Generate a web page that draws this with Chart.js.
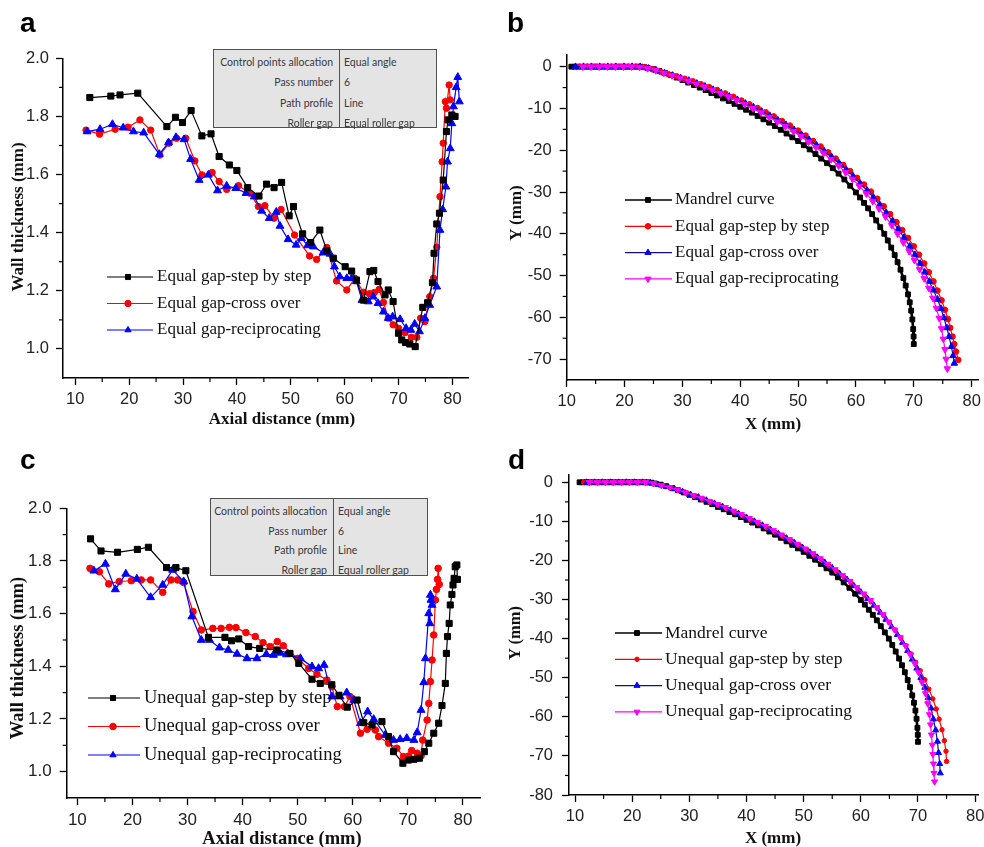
<!DOCTYPE html>
<html><head><meta charset="utf-8">
<script src="https://cdn.jsdelivr.net/npm/chart.js@4.4.1/dist/chart.umd.min.js"></script>
<style>
html,body{margin:0;padding:0;background:#fff;}
#wrap{position:relative;width:984px;height:847px;overflow:hidden;background:#fff;}
canvas{position:absolute;}
.lbl{position:absolute;font:bold 28px "Liberation Sans",Arial,sans-serif;color:#000;line-height:1;}
.ttl{position:absolute;font-family:"Liberation Serif","Times New Roman",serif;font-weight:bold;color:#111;white-space:nowrap;line-height:1;}
.tbl{position:absolute;background:#e4e4e4;border:1px solid #505050;box-sizing:border-box;font-family:Lato,"Noto Sans",sans-serif;font-size:10.5px;color:#3a3a3a;}
.tbl .div{position:absolute;top:0;bottom:0;width:1px;background:#505050;}
.tbl span{position:absolute;white-space:nowrap;line-height:1;transform:translateY(-50%);}
</style></head>
<body><div id="wrap">
<canvas id="ca" width="490" height="420" style="left:0;top:0"></canvas>
<canvas id="cb" width="494" height="420" style="left:490px;top:0"></canvas>
<canvas id="cc" width="490" height="427" style="left:0;top:420px"></canvas>
<canvas id="cd" width="494" height="427" style="left:490px;top:420px"></canvas>
<div class="lbl" style="left:20px;top:9px">a</div>
<div class="lbl" style="left:507px;top:9px">b</div>
<div class="lbl" style="left:20px;top:446px">c</div>
<div class="lbl" style="left:508px;top:446px">d</div>
</div>
<script>
// ---------------- data ----------------
// Panel a: wall thickness, equal roller gap
const aStep = [[12.7,1.865],[16.6,1.870],[18.3,1.874],[21.6,1.880],[27.0,1.765],[28.6,1.797],[29.9,1.779],[31.5,1.820],[33.5,1.733],[35.2,1.740],[36.7,1.662],[38.6,1.633],[40.0,1.614],[42.0,1.555],[44.1,1.526],[45.5,1.567],[46.9,1.555],[48.3,1.573],[49.7,1.458],[50.5,1.490],[52.2,1.396],[53.7,1.366],[55.4,1.409],[56.7,1.338],[57.9,1.312],[60.1,1.283],[61.3,1.268],[62.2,1.237],[63.5,1.168],[64.7,1.266],[65.4,1.270],[66.2,1.232],[67.5,1.186],[68.1,1.203],[69.0,1.163],[70.0,1.054],[70.6,1.031],[71.3,1.022],[72.1,1.017],[73.1,1.008],[74.5,1.143],[75.4,1.159],[76.3,1.228],[76.6,1.329],[77.1,1.430],[77.6,1.467],[78.3,1.581],[78.9,1.748],[79.2,1.788],[79.9,1.805],[80.5,1.800]];
const aCross = [[12.0,1.753],[14.5,1.739],[17.4,1.756],[19.8,1.763],[22.0,1.788],[24.0,1.753],[25.7,1.667],[27.4,1.708],[28.8,1.725],[30.5,1.725],[32.2,1.647],[33.5,1.599],[35.4,1.607],[36.7,1.576],[38.1,1.549],[40.3,1.562],[42.4,1.536],[44.0,1.490],[45.2,1.493],[46.9,1.450],[48.2,1.480],[50.7,1.392],[53.5,1.320],[54.8,1.308],[56.7,1.349],[58.5,1.234],[60.4,1.203],[61.9,1.243],[63.5,1.195],[64.6,1.190],[65.5,1.194],[66.4,1.205],[67.2,1.160],[68.1,1.106],[69.0,1.083],[70.0,1.071],[71.2,1.056],[72.4,1.040],[73.4,1.040],[74.1,1.106],[74.9,1.094],[75.8,1.180],[76.5,1.243],[77.1,1.350],[77.7,1.524],[78.1,1.644],[78.3,1.708],[78.7,1.851],[78.9,1.828],[79.4,1.908],[79.6,1.857]];
const aRecip = [[12.2,1.748],[14.6,1.756],[16.9,1.773],[18.9,1.761],[20.8,1.748],[22.7,1.744],[25.6,1.670],[27.3,1.710],[28.7,1.728],[30.2,1.721],[31.4,1.653],[33.0,1.581],[34.7,1.599],[36.4,1.545],[38.1,1.561],[39.8,1.553],[41.7,1.536],[43.2,1.524],[44.6,1.475],[46.0,1.450],[47.3,1.471],[48.0,1.423],[49.5,1.377],[51.0,1.358],[52.0,1.381],[53.1,1.356],[54.2,1.352],[56.0,1.331],[57.3,1.327],[58.1,1.283],[59.1,1.249],[60.4,1.243],[61.3,1.243],[62.2,1.232],[63.2,1.168],[64.4,1.163],[65.3,1.180],[66.2,1.157],[67.2,1.128],[68.1,1.106],[68.9,1.111],[70.3,1.102],[71.4,1.071],[72.3,1.065],[73.0,1.086],[73.9,1.060],[74.9,1.106],[75.8,1.151],[77.1,1.214],[77.7,1.409],[78.2,1.480],[78.8,1.558],[79.1,1.644],[79.6,1.690],[79.9,1.776],[80.2,1.834],[80.7,1.900],[81.0,1.935],[81.3,1.851]];

// Panel c: wall thickness, unequal roller gap
const cStep = [[12.4,1.884],[14.3,1.838],[17.3,1.833],[20.9,1.844],[22.9,1.852],[26.2,1.775],[27.9,1.775],[29.7,1.763],[33.8,1.510],[36.8,1.510],[38.0,1.497],[39.3,1.504],[41.1,1.475],[43.1,1.468],[46.2,1.462],[48.6,1.449],[50.2,1.411],[52.6,1.351],[54.1,1.335],[56.2,1.330],[57.5,1.290],[59.0,1.245],[60.8,1.272],[62.0,1.186],[63.5,1.177],[65.3,1.190],[66.5,1.133],[67.4,1.076],[69.1,1.032],[70.1,1.044],[71.1,1.047],[72.1,1.051],[73.0,1.076],[73.8,1.108],[74.7,1.146],[75.6,1.184],[76.2,1.251],[76.8,1.335],[77.0,1.449],[77.2,1.513],[77.5,1.563],[77.7,1.633],[78.0,1.673],[78.2,1.709],[78.4,1.734],[78.6,1.778],[78.9,1.785],[79.0,1.730]];
const cCross = [[12.3,1.772],[14.0,1.759],[15.7,1.713],[17.6,1.722],[19.8,1.725],[21.6,1.728],[23.3,1.728],[25.5,1.681],[27.0,1.728],[28.2,1.728],[29.3,1.718],[31.0,1.608],[32.5,1.538],[34.6,1.544],[36.1,1.544],[37.6,1.548],[38.8,1.547],[40.6,1.528],[42.3,1.513],[43.7,1.490],[45.0,1.475],[46.3,1.494],[47.4,1.478],[50.0,1.430],[52.0,1.392],[53.5,1.370],[55.3,1.348],[56.2,1.323],[57.2,1.247],[58.5,1.247],[59.5,1.285],[61.4,1.146],[62.6,1.161],[64.1,1.158],[64.7,1.133],[66.5,1.108],[68.0,1.089],[69.2,1.057],[70.1,1.059],[70.7,1.080],[71.7,1.070],[72.4,1.060],[72.7,1.120],[73.5,1.196],[73.8,1.259],[74.1,1.342],[74.4,1.424],[74.7,1.519],[75.0,1.652],[75.2,1.692],[75.4,1.730],[75.5,1.772],[75.7,1.711]];
const cRecip = [[13.0,1.763],[15.1,1.789],[16.9,1.692],[18.8,1.751],[20.8,1.732],[23.3,1.662],[25.5,1.709],[27.3,1.766],[29.3,1.722],[30.8,1.589],[32.5,1.500],[34.0,1.500],[35.8,1.471],[37.4,1.462],[39.0,1.447],[40.8,1.430],[42.6,1.430],[44.3,1.446],[45.6,1.443],[46.8,1.451],[48.0,1.445],[50.5,1.430],[52.6,1.399],[53.8,1.392],[54.8,1.405],[56.2,1.285],[57.7,1.285],[58.9,1.300],[60.2,1.272],[61.4,1.184],[62.7,1.228],[63.8,1.199],[65.9,1.139],[67.4,1.120],[68.6,1.123],[69.8,1.127],[71.1,1.120],[71.7,1.149],[72.4,1.234],[72.9,1.339],[73.2,1.430],[73.8,1.601],[74.0,1.563],[74.1,1.671],[74.2,1.652],[74.4,1.633]];

// Panels b & d: mandrel curve (same mandrel)
const mandrel = [[10.8,0],[11.4,0],[12,0],[12.6,0],[13.2,0],[13.8,0],[14.4,0],[15,0],[15.6,0],[16.2,0],[16.8,0],[17.4,0],[18,0],[18.6,0],[19.2,0],[19.8,0],[20.4,0],[21,0],[21.6,0],[22.2,0],[22.8,0],[23.4,-0.1],[24,-0.3],[25,-0.6],[26,-1.0],[27,-1.5],[28,-2.0],[29,-2.6],[30,-3.2],[31,-3.8],[32,-4.4],[33,-5.0],[34,-5.6],[35,-6.3],[36,-6.9],[37,-7.6],[38,-8.2],[39,-8.9],[40,-9.6],[41,-10.3],[42,-11.0],[43,-11.8],[44,-12.6],[45,-13.4],[46,-14.2],[47,-15.1],[48,-16.0],[49,-16.9],[50,-17.8],[51,-18.8],[52,-19.8],[53,-20.9],[54,-22.0],[55,-23.1],[56,-24.3],[57,-25.6],[58,-27.0],[59,-28.5],[60,-30.1],[60.7,-31.3],[61.4,-32.6],[62.1,-33.9],[62.8,-35.3],[63.5,-36.8],[64.2,-38.4],[64.9,-40.0],[65.5,-41.6],[66.1,-43.3],[66.7,-45.1],[67.2,-46.8],[67.7,-48.6],[68.2,-50.6],[68.6,-52.4],[69,-54.5],[69.3,-56.4],[69.55,-58.4],[69.75,-60.5],[69.9,-62.8],[69.97,-64.6],[70,-66.4]];

// Panel b: profiles, equal gap
const bStep = [[12.2,0],[13.6,0],[15,0],[16.4,0],[17.8,0],[19.2,0],[20.6,0],[22,0],[23.4,-0.1],[24.8,-0.6],[26.2,-1.2],[27.6,-1.8],[29,-2.3],[30.4,-2.9],[31.8,-3.5],[33.2,-4.2],[34.6,-4.9],[36,-5.6],[37.4,-6.4],[38.8,-7.2],[40.2,-8.1],[41.6,-9.0],[43,-9.9],[44.4,-10.9],[45.8,-11.9],[47.2,-13.0],[48.6,-14.1],[50,-15.3],[51.3,-16.5],[52.6,-17.8],[53.9,-19.1],[55.2,-20.5],[56.5,-22.0],[57.8,-23.5],[59,-25.0],[60.2,-26.6],[61.4,-28.2],[62.6,-29.9],[63.7,-31.6],[64.8,-33.4],[65.9,-35.3],[67,-37.2],[68,-39.1],[69,-41.0],[70,-43.0],[70.9,-45.0],[71.8,-47.1],[72.6,-49.2],[73.4,-51.4],[74.1,-53.6],[74.8,-55.9],[75.4,-58.2],[75.9,-60.4],[76.3,-62.5],[76.7,-64.6],[77,-66.4],[77.3,-68.2],[77.7,-70.2]];
const bCross = [[11.5,0],[12.9,0],[14.3,0],[15.7,0],[17.1,0],[18.5,0],[19.9,0],[21.3,0],[22.7,0],[24.1,-0.4],[25.5,-0.9],[26.9,-1.5],[28.3,-2.1],[29.7,-2.7],[31.1,-3.3],[32.5,-4.0],[33.9,-4.7],[35.3,-5.5],[36.7,-6.3],[38.1,-7.1],[39.5,-7.9],[40.9,-8.8],[42.3,-9.7],[43.7,-10.7],[45.1,-11.7],[46.5,-12.8],[47.9,-13.9],[49.3,-15.1],[50.6,-16.3],[51.9,-17.5],[53.2,-18.8],[54.5,-20.2],[55.8,-21.6],[57.1,-23.1],[58.3,-24.6],[59.5,-26.2],[60.7,-27.9],[61.9,-29.6],[63,-31.3],[64.1,-33.1],[65.2,-35.0],[66.3,-37.0],[67.3,-38.9],[68.3,-40.9],[69.3,-43.0],[70.2,-45.0],[71.1,-47.1],[71.9,-49.2],[72.7,-51.4],[73.4,-53.5],[74.1,-55.7],[74.7,-57.9],[75.2,-60.1],[75.7,-62.5],[76.1,-64.6],[76.5,-67.0],[76.8,-69.2],[77.0,-71.0]];
const bRecip = [[12.8,0],[14.2,0],[15.6,0],[17,0],[18.4,0],[19.8,0],[21.2,0],[22.6,-0.1],[24,-0.4],[25.4,-0.9],[26.8,-1.5],[28.2,-2.1],[29.6,-2.7],[31,-3.4],[32.4,-4.1],[33.8,-4.8],[35.2,-5.6],[36.6,-6.4],[38,-7.2],[39.4,-8.1],[40.8,-9.0],[42.2,-10.0],[43.6,-11.0],[45,-12.1],[46.4,-13.2],[47.8,-14.3],[49.2,-15.5],[50.5,-16.7],[51.8,-18.0],[53.1,-19.3],[54.4,-20.7],[55.7,-22.2],[57,-23.7],[58.2,-25.3],[59.4,-26.9],[60.6,-28.6],[61.8,-30.4],[62.9,-32.2],[64,-34.0],[65.1,-35.9],[66.2,-38.0],[67.2,-40.0],[68.2,-42.1],[69.2,-44.2],[70.1,-46.3],[71,-48.5],[71.8,-50.7],[72.6,-53.0],[73.3,-55.4],[73.9,-57.8],[74.4,-60.2],[74.8,-62.7],[75.1,-65.2],[75.4,-67.7],[75.6,-70.0],[75.8,-72.3]];

// Panel d: profiles, unequal gap
const dStep = [[11.5,0],[12.9,0],[14.3,0],[15.7,0],[17.1,0],[18.5,0],[19.9,0],[21.3,0],[22.7,-0.1],[24.1,-0.4],[25.5,-0.9],[26.9,-1.5],[28.3,-2.2],[29.7,-2.9],[31.1,-3.6],[32.5,-4.4],[33.9,-5.2],[35.3,-6.0],[36.7,-6.9],[38.1,-7.8],[39.5,-8.7],[40.9,-9.7],[42.3,-10.7],[43.7,-11.7],[45.1,-12.8],[46.5,-13.9],[47.9,-15.0],[49.3,-16.2],[50.6,-17.4],[51.9,-18.7],[53.2,-20.0],[54.5,-21.4],[55.8,-22.8],[57.1,-24.3],[58.3,-25.8],[59.5,-27.4],[60.7,-29.0],[61.8,-30.6],[62.9,-32.3],[64,-34.1],[65,-35.9],[66,-37.8],[67,-39.8],[67.9,-41.8],[68.8,-43.9],[69.6,-46.0],[70.4,-48.2],[71.2,-50.5],[71.9,-52.9],[72.6,-55.4],[73.2,-58.0],[73.7,-60.6],[74.2,-63.3],[74.6,-66.1],[74.9,-68.8],[75.0,-71.4]];
const dCross = [[12,0],[13.4,0],[14.8,0],[16.2,0],[17.6,0],[19,0],[20.4,0],[21.8,0],[23.2,-0.2],[24.6,-0.6],[26,-1.1],[27.4,-1.7],[28.8,-2.4],[30.2,-3.1],[31.6,-3.8],[33,-4.6],[34.4,-5.4],[35.8,-6.2],[37.2,-7.1],[38.6,-8.0],[40,-9.0],[41.4,-10.0],[42.8,-11.0],[44.2,-12.1],[45.6,-13.2],[47,-14.3],[48.4,-15.5],[49.8,-16.7],[51.1,-17.9],[52.4,-19.2],[53.7,-20.5],[55,-21.9],[56.3,-23.4],[57.6,-24.9],[58.8,-26.5],[60,-28.1],[61.2,-29.8],[62.3,-31.5],[63.4,-33.3],[64.4,-35.1],[65.4,-37.0],[66.4,-39.0],[67.3,-41.0],[68.2,-43.1],[69,-45.3],[69.8,-47.6],[70.5,-50.0],[71.2,-52.5],[71.8,-55.1],[72.3,-57.8],[72.7,-60.6],[73.1,-63.4],[73.4,-66.3],[73.6,-69.2],[73.8,-72.0],[73.9,-74.4]];
const dRecip = [[12.5,0],[13.9,0],[15.3,0],[16.7,0],[18.1,0],[19.5,0],[20.9,0],[22.3,0],[23.7,-0.3],[25.1,-0.8],[26.5,-1.3],[27.9,-1.9],[29.3,-2.6],[30.7,-3.3],[32.1,-4.0],[33.5,-4.8],[34.9,-5.6],[36.3,-6.4],[37.7,-7.3],[39.1,-8.2],[40.5,-9.2],[41.9,-10.2],[43.3,-11.2],[44.7,-12.3],[46.1,-13.4],[47.5,-14.6],[48.9,-15.8],[50.3,-17.0],[51.6,-18.2],[52.9,-19.5],[54.2,-20.9],[55.5,-22.3],[56.8,-23.8],[58.1,-25.3],[59.3,-26.9],[60.5,-28.5],[61.7,-30.2],[62.8,-32.0],[63.9,-33.8],[64.9,-35.7],[65.9,-37.7],[66.9,-39.7],[67.8,-41.8],[68.6,-44.0],[69.4,-46.3],[70.1,-48.7],[70.7,-51.2],[71.3,-54.0],[71.7,-56.6],[72.0,-59.4],[72.2,-62.0],[72.35,-64.6],[72.5,-67.2],[72.6,-69.6],[72.7,-72.0],[72.8,-74.4],[72.9,-76.6]];

// ticks
const thickTicksX = [10,20,30,40,50,60,70,80];
const thickMinorX = [15,25,35,45,55,65,75];
const thickTicksY = [1.0,1.2,1.4,1.6,1.8,2.0];
const thickMinorY = [1.1,1.3,1.5,1.7,1.9];
const profTicksX = [10,20,30,40,50,60,70,80];
const profMinorX = [15,25,35,45,55,65,75];
const bTicksY = [0,-10,-20,-30,-40,-50,-60,-70];
const bMinorY = [-5,-15,-25,-35,-45,-55,-65];
const dTicksY = [0,-10,-20,-30,-40,-50,-60,-70,-80];
const dMinorY = [-5,-15,-25,-35,-45,-55,-65,-75];

// text
const aLabels = ['Equal gap-step by step','Equal gap-cross over','Equal gap-reciprocating'];
const cLabels = ['Unequal gap-step by step','Unequal gap-cross over','Unequal gap-reciprocating'];
const bLabels = ['Mandrel curve','Equal gap-step by step','Equal gap-cross over','Equal gap-reciprocating'];
const dLabels = ['Mandrel curve','Unequal gap-step by step','Unequal gap-cross over','Unequal gap-reciprocating'];
const tableLabels = ['Control points allocation','Pass number','Path profile','Roller gap'];
const tableValues = ['Equal angle','6','Line','Equal roller gap'];

// ---------------- helpers ----------------
Chart.defaults.font.family = '"Liberation Sans", Arial, sans-serif';
Chart.defaults.color = '#222';
const xy = arr => arr.map(p => ({x:p[0], y:p[1]}));

function drawMarker(ctx, style, rot, r, x, y) {
  if (Chart.helpers && Chart.helpers.drawPoint) {
    Chart.helpers.drawPoint(ctx, {pointStyle: style, rotation: rot, radius: r, borderWidth: 1}, x, y);
  }
}

const minorPlugin = {
  id: 'minorTicks',
  afterDraw(chart, args, o) {
    if (!o || !o.x) return;
    const ctx = chart.ctx, ca = chart.chartArea, xs = chart.scales.x, ys = chart.scales.y;
    ctx.save(); ctx.strokeStyle = '#000'; ctx.lineWidth = 1.2;
    o.x.forEach(v => { const p = xs.getPixelForValue(v); ctx.beginPath(); ctx.moveTo(p, ca.bottom); ctx.lineTo(p, ca.bottom + o.len); ctx.stroke(); });
    o.y.forEach(v => { const p = ys.getPixelForValue(v); ctx.beginPath(); ctx.moveTo(ca.left, p); ctx.lineTo(ca.left - o.len, p); ctx.stroke(); });
    ctx.restore();
  }
};
const legendPlugin = {
  id: 'sideLegend',
  afterDraw(chart, args, o) {
    if (!o || o.x === undefined) return;
    const ctx = chart.ctx;
    ctx.save();
    chart.data.datasets.forEach((ds, i) => {
      const y = o.y0 + i * o.dy;
      ctx.strokeStyle = ds.borderColor; ctx.lineWidth = Math.min(ds.borderWidth, 1.5);
      ctx.beginPath(); ctx.moveTo(o.x, y); ctx.lineTo(o.x + o.len, y); ctx.stroke();
      ctx.fillStyle = ds.pointBackgroundColor; ctx.strokeStyle = ds.pointBorderColor; ctx.lineWidth = 1;
      drawMarker(ctx, ds.pointStyle, ds.pointRotation || 0, Math.min(ds.pointRadius, 3.6), o.mx, y);
      ctx.fillStyle = '#111'; ctx.font = o.font; ctx.textBaseline = 'middle'; ctx.textAlign = 'left';
      ctx.fillText(ds.label, o.tx, y);
    });
    ctx.restore();
  }
};

function series(label, data, line, fill, style, r, rot, bw, order) {
  return {label, data: xy(data), showLine: true, borderColor: line, borderWidth: bw || 1.2,
    pointBackgroundColor: fill, pointBorderColor: fill, pointBorderWidth: 1,
    pointStyle: style, pointRadius: r, pointRotation: rot || 0, pointHoverRadius: r, tension: 0,
    order: order || 0};
}

function makeChart(id, g, sx, sy, datasets, legend, minor) {
  const zero = s => { s.paddingLeft = 0; s.paddingRight = 0; s.paddingTop = 0; s.paddingBottom = 0; };
  const axisCommon = {
    grid: {drawOnChartArea: false, drawTicks: true, tickLength: 7, color: '#000', tickWidth: 1.3},
    border: {display: true, color: '#000', width: 1.5}
  };
  new Chart(document.getElementById(id), {
    type: 'scatter',
    data: {datasets},
    options: {
      responsive: false, animation: false, devicePixelRatio: 1,
      layout: {padding: {left: 0, top: g.T, right: g.W - g.R, bottom: 0}},
      plugins: {legend: {display: false}, tooltip: {enabled: false}, sideLegend: legend, minorTicks: minor},
      scales: {
        x: Object.assign({type: 'linear', position: 'bottom', min: sx.min, max: sx.max,
          afterBuildTicks: s => { s.ticks = sx.ticks.map(v => ({value: v})); },
          afterFit: s => { s.height = g.H - g.B; zero(s); },
          ticks: {padding: sx.pad, font: {size: sx.size}, color: '#222', maxRotation: 0, autoSkip: false, callback: v => sx.fmt(v)}
        }, axisCommon),
        y: Object.assign({type: 'linear', position: 'left', min: sy.min, max: sy.max,
          afterBuildTicks: s => { s.ticks = sy.ticks.map(v => ({value: v})); },
          afterFit: s => { s.width = g.L; zero(s); },
          ticks: {padding: sy.pad, font: {size: sy.size}, color: '#222', autoSkip: false, callback: v => sy.fmt(v)}
        }, axisCommon)
      }
    },
    plugins: [minorPlugin, legendPlugin]
  });
}

const f1 = v => v.toFixed(1), f0 = v => String(Math.round(v));
const RED = '#ff0000', BLUE = '#0000ff', NAVY = '#101080', MAG = '#ff00ff', BLK = '#000000';

// Panel a
makeChart('ca', {W:490, H:420, L:63, R:468, T:58.3, B:378},
  {min:7.72, max:82.9, ticks:thickTicksX, pad:5, size:16.5, fmt:f0},
  {min:0.9, max:2.0, ticks:thickTicksY, pad:7, size:16.5, fmt:f1},
  [series(aLabels[0], aStep, BLK, BLK, 'rect', 4.3, 0, 1.2, 1),
   series(aLabels[1], aCross, RED, RED, 'circle', 3.2, 0, 1.2, 3),
   series(aLabels[2], aRecip, BLUE, BLUE, 'triangle', 4.5, 0, 1.2, 2)],
  {x:107, len:46, mx:128, tx:157, y0:277, dy:26.5, font:'17px "Liberation Serif","Times New Roman",serif'},
  {x:thickMinorX, y:thickMinorY, len:4});

// Panel b
makeChart('cb', {W:494, H:420, L:76.7, R:488, T:55, B:380},
  {min:10, max:81.1, ticks:profTicksX, pad:5, size:16.5, fmt:f0},
  {min:-75, max:2.8, ticks:bTicksY, pad:8, size:16.5, fmt:f0},
  [series(bLabels[0], mandrel, BLK, BLK, 'rect', 3.4, 0, 2.6, 10),
   series(bLabels[1], bStep, RED, RED, 'circle', 2.8, 0, 1.2, 3),
   series(bLabels[2], bCross, NAVY, BLUE, 'triangle', 3.8, 0, 1.2, 2),
   series(bLabels[3], bRecip, MAG, MAG, 'triangle', 3.8, 180, 1.2, 1)],
  {x:135, len:47, mx:158, tx:185, y0:200, dy:26.3, font:'17px "Liberation Serif","Times New Roman",serif'},
  {x:profMinorX, y:bMinorY, len:4});

// Panel c
makeChart('cc', {W:490, H:427, L:66.7, R:480, T:88.3, B:378},
  {min:8.07, max:83.1, ticks:thickTicksX, pad:5, size:17, fmt:f0},
  {min:0.9, max:2.0, ticks:thickTicksY, pad:8, size:17, fmt:f1},
  [series(cLabels[0], cStep, BLK, BLK, 'rect', 4.3, 0, 1.2, 1),
   series(cLabels[1], cCross, RED, RED, 'circle', 3.3, 0, 1.2, 3),
   series(cLabels[2], cRecip, BLUE, BLUE, 'triangle', 4.6, 0, 1.2, 2)],
  {x:88, len:52, mx:113, tx:144, y0:278, dy:28.5, font:'18.5px "Liberation Serif","Times New Roman",serif'},
  {x:thickMinorX, y:thickMinorY, len:4});

// Panel d
makeChart('cd', {W:494, H:427, L:79, R:488, T:55, B:375},
  {min:8.95, max:80.5, ticks:profTicksX, pad:5, size:16.5, fmt:f0},
  {min:-80, max:1.87, ticks:dTicksY, pad:9, size:16.5, fmt:f0},
  [series(dLabels[0], mandrel, BLK, BLK, 'rect', 3.4, 0, 2.6, 10),
   series(dLabels[1], dStep, RED, RED, 'circle', 2.2, 0, 1.2, 3),
   series(dLabels[2], dCross, NAVY, BLUE, 'triangle', 3.5, 0, 1.2, 2),
   series(dLabels[3], dRecip, MAG, MAG, 'triangle', 3.5, 180, 1.2, 1)],
  {x:125, len:47, mx:147, tx:175, y0:213, dy:26.3, font:'17.5px "Liberation Serif","Times New Roman",serif'},
  {x:profMinorX, y:dMinorY, len:4});

// ---------------- HTML texts ----------------
const wrap = document.getElementById('wrap');
function title(text, cx, cy, size, rot) {
  const d = document.createElement('div');
  d.className = 'ttl'; d.textContent = text;
  d.style.left = cx + 'px'; d.style.top = cy + 'px'; d.style.fontSize = size + 'px';
  d.style.transform = 'translate(-50%,-50%)' + (rot ? ' rotate(-90deg)' : '');
  wrap.appendChild(d);
}
title('Axial distance (mm)', 282, 418, 17);
title('Wall thickness (mm)', 17, 217, 17, true);
title('X (mm)', 773, 423, 17);
title('Y (mm)', 515, 213, 17, true);
title('Axial distance (mm)', 282, 838, 18.5);
title('Wall thickness (mm)', 17, 658, 18.5, true);
title('X (mm)', 773, 837, 17);
title('Y (mm)', 515, 633, 16.5, true);

function table(left, top, w, h, divX, y0, dy) {
  const t = document.createElement('div');
  t.className = 'tbl';
  Object.assign(t.style, {left: left + 'px', top: top + 'px', width: w + 'px', height: h + 'px'});
  const dv = document.createElement('div'); dv.className = 'div'; dv.style.left = (divX - 1) + 'px'; t.appendChild(dv);
  tableLabels.forEach((lab, i) => {
    const a = document.createElement('span'); a.textContent = lab;
    a.style.right = (w - divX + 5) + 'px'; a.style.top = (y0 + i * dy - 1) + 'px'; t.appendChild(a);
    const b = document.createElement('span'); b.textContent = tableValues[i];
    b.style.left = (divX + 4) + 'px'; b.style.top = (y0 + i * dy - 1) + 'px'; t.appendChild(b);
  });
  wrap.appendChild(t);
}
table(213, 49, 224, 79, 126, 13, 20.3);
table(210, 498, 218, 78, 123, 13, 19.7);
</script>
</body></html>
